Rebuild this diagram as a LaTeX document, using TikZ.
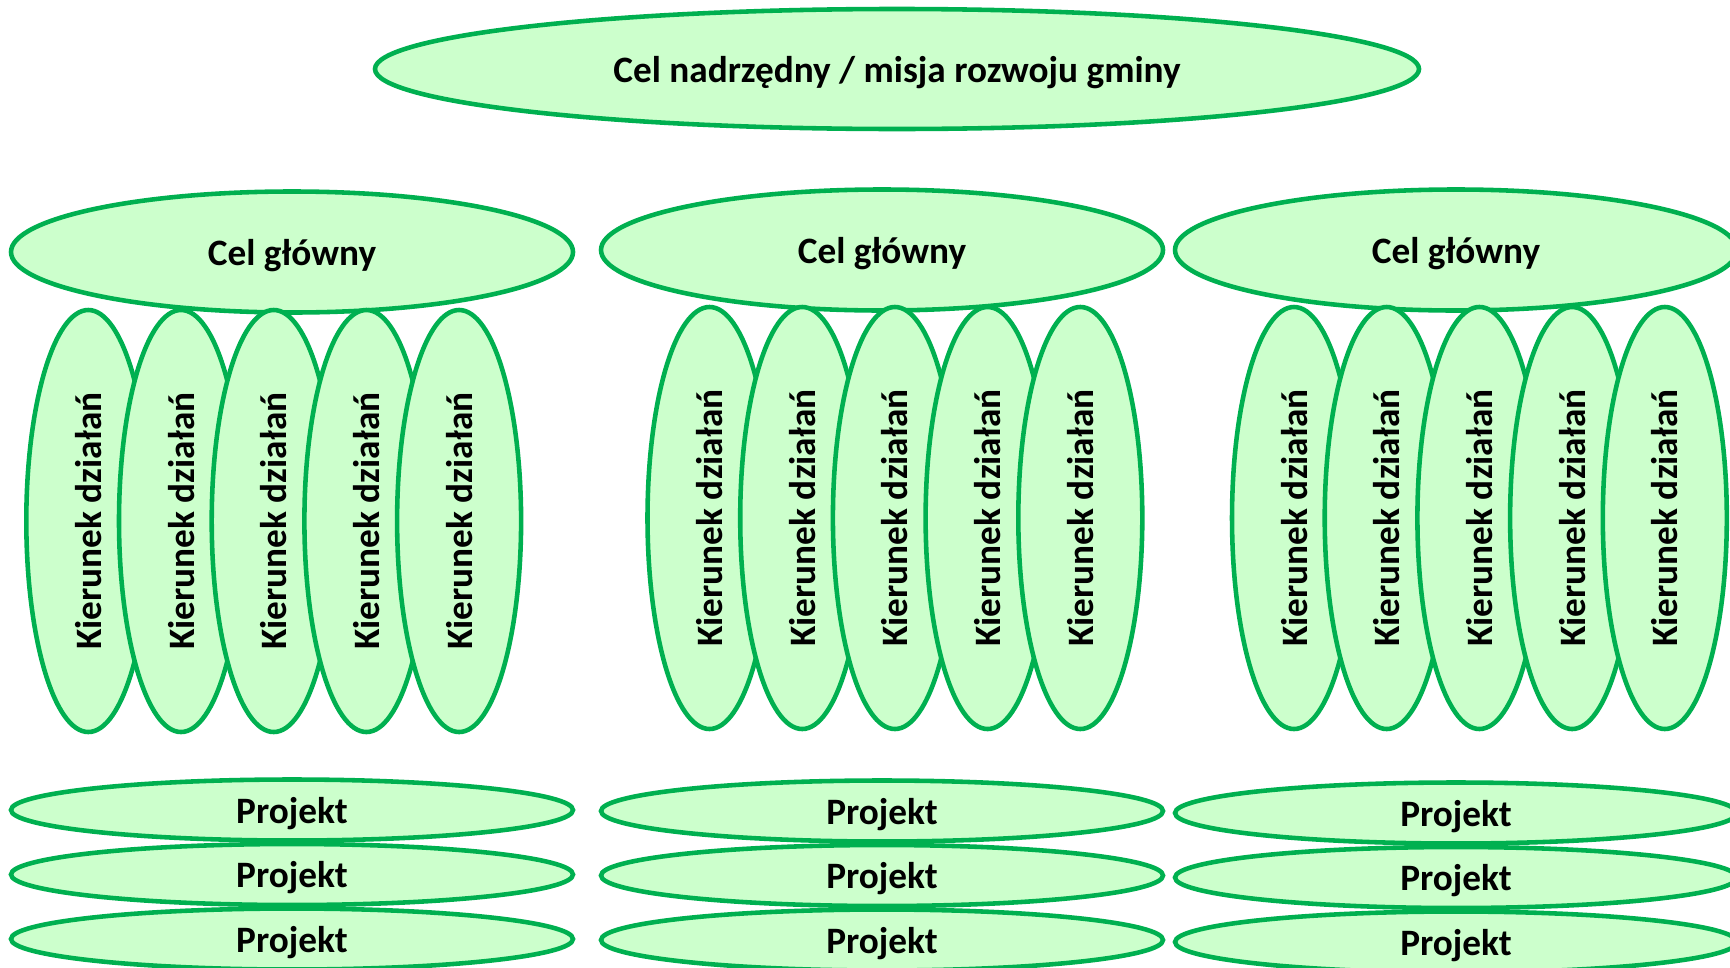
\documentclass[tikz,border=0pt]{standalone}
\usepackage{fontspec}
\setmainfont{Carlito}
\usepackage{tikz}
\usetikzlibrary{shapes.geometric}
\definecolor{ramka}{HTML}{00B050}
\definecolor{tlo}{HTML}{CCFFCC}

\begin{document}
\begin{tikzpicture}[
    owal/.style={ellipse, draw=ramka, fill=tlo, line width=1.3pt, inner sep=0pt,
      text depth=0pt, font=\fontsize{10.6}{12}\selectfont\bfseries},
    misja/.style={owal, minimum width=10.44cm, minimum height=1.20cm},
    celglowny/.style={owal, minimum width=5.62cm, minimum height=1.21cm},
    kierunek/.style={owal, rotate=90, minimum width=4.22cm, minimum height=1.24cm},
    projekt/.style={owal, minimum width=5.62cm, minimum height=0.61cm}
  ]
  \useasboundingbox (0,0) rectangle (17.30,-9.67);

  % === MISJA ===
  \node[misja] (misja) at (8.97,-0.69) {Cel nadrzędny / misja rozwoju gminy};

  % === CELE GŁÓWNE ===
  \node[celglowny] (cel-1) at (2.92,-2.52) {Cel główny};
  \node[celglowny] (cel-2) at (8.82,-2.50) {Cel główny};
  \node[celglowny] (cel-3) at (14.56,-2.50) {Cel główny};

  % Kierunki działań (5 na każdy cel)
  \foreach \g/\x/\y in {1/0.883/-5.21, 2/7.095/-5.18, 3/12.94/-5.18} {
    \foreach \k in {0,...,4} {
      \node[kierunek] (kier-\g-\k) at ({\x+0.927*\k},\y) {Kierunek działań};
    }
  }

  % Projekty (3 na każdy cel)
  \foreach \g/\x/\y in {1/2.92/-8.10, 2/8.82/-8.11, 3/14.56/-8.13} {
    \foreach \r in {0,1,2} {
      \node[projekt] (proj-\g-\r) at (\x,{\y-0.645*\r}) {Projekt};
    }
  }
\end{tikzpicture}
\end{document}
